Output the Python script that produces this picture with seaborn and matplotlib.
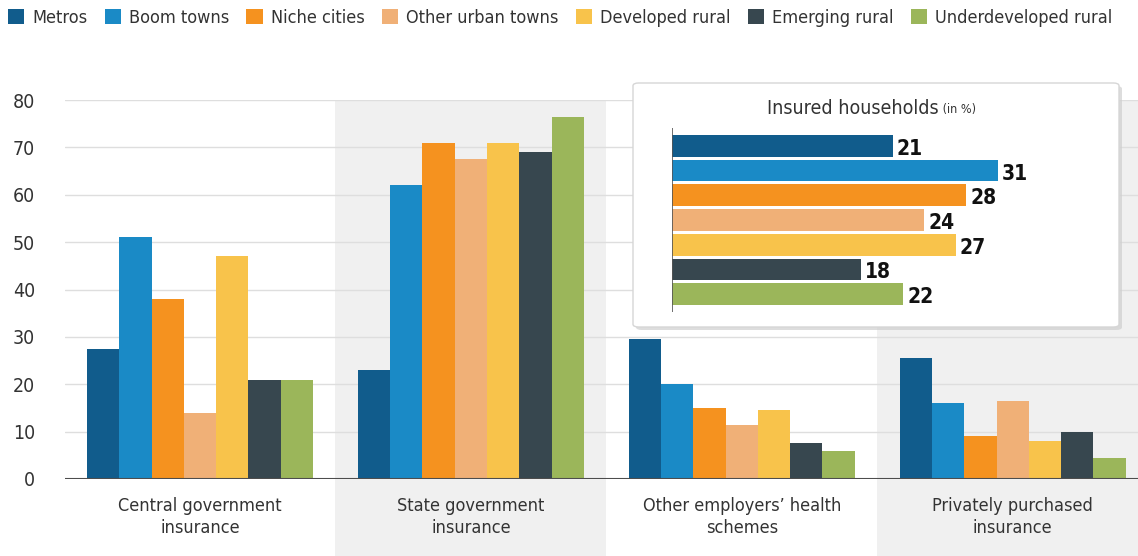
import matplotlib
matplotlib.use("Agg")
import matplotlib.pyplot as plt
import matplotlib.font_manager as fm
from matplotlib.patches import Patch, Rectangle, FancyBboxPatch
from matplotlib.transforms import blended_transform_factory
import pandas as pd
import seaborn as sns

# --- data -------------------------------------------------------------
groups = ["Metros", "Boom towns", "Niche cities", "Other urban towns",
          "Developed rural", "Emerging rural", "Underdeveloped rural"]
colors = ["#115c8c", "#1a8ac6", "#f5921f", "#f0b077", "#f8c34b",
          "#37474f", "#9bb65a"]
categories = ["Central government\ninsurance", "State government\ninsurance",
              "Other employers\u2019 health\nschemes", "Privately purchased\ninsurance"]

central = [27.5, 51, 38, 14, 47, 21, 21]
state = [23, 62, 71, 67.5, 71, 69, 76.5]
employers = [29.5, 20, 15, 11.5, 14.5, 7.5, 6]
private = [25.5, 16, 9, 16.5, 8, 10, 4.5]

insured = [21, 31, 28, 24, 27, 18, 22]
y_ticks = [0, 10, 20, 30, 40, 50, 60, 70, 80]

# --- fonts: prefer a narrow face -------------------------------------
sns.set_theme(style="white")
narrow = [f for f in fm.fontManager.ttflist
          if ("narrow" in f.fname.lower() or "condensed" in f.fname.lower())
          and f.style == "normal"]
if narrow:
    fam = narrow[0].name
    plt.rcParams["font.stretch"] = "condensed"
else:
    fam = "Liberation Sans"
plt.rcParams["font.family"] = [fam, "DejaVu Sans"]
text_color = "#333333"

rows = []
for cat, vals in zip(categories, [central, state, employers, private]):
    for g, v in zip(groups, vals):
        rows.append({"category": cat, "group": g, "value": v})
df = pd.DataFrame(rows)

W, H = 1138, 556
fig = plt.figure(figsize=(W / 100, H / 100), dpi=100)
fig.patch.set_facecolor("white")

# main axes
ax = fig.add_axes([64.5 / W, 77 / H, (1140 - 64.5) / W, (479 - 100) / H])
ax.set_facecolor("none")

sns.barplot(data=df, x="category", y="value", hue="group", hue_order=groups,
            order=categories, palette=colors, saturation=1, width=0.834,
            gap=0, legend=False, ax=ax, zorder=3, linewidth=0)

ax.set_xlim(-0.5, 3.47)
ax.set_ylim(0, 80)
ax.set_yticks(y_ticks)
ax.set_yticklabels([str(t) for t in y_ticks])
ax.set_xlabel("")
ax.set_ylabel("")
for s in ax.spines.values():
    s.set_visible(False)
ax.axhline(0, color="#4d4d4d", lw=1.5, zorder=4)
ax.yaxis.grid(True, color="#dedede", lw=1, zorder=1)
ax.set_axisbelow(True)
ax.tick_params(axis="y", length=0, pad=21, labelsize=14, labelcolor=text_color)
ax.tick_params(axis="x", length=0, pad=13, labelsize=13, labelcolor=text_color)
for lab in ax.get_xticklabels():
    lab.set_linespacing(1.25)

# alternating shaded columns behind the groups
trans = blended_transform_factory(ax.transData, fig.transFigure)
for i in (1, 3):
    ax.add_patch(Rectangle((i - 0.5, 0), 1, (H - 100) / H, transform=trans,
                           facecolor="#f0f0f0", edgecolor="none",
                           zorder=0, clip_on=False))

# legend along the top
handles = [Patch(facecolor=c, edgecolor="none", label=g) for g, c in zip(groups, colors)]
fig.legend(handles=handles, loc="center left", bbox_to_anchor=(0.007, 1 - 18 / H),
           ncol=7, frameon=False, fontsize=13, handlelength=0.9, handleheight=0.9,
           handletextpad=0.45, columnspacing=0.95, borderaxespad=0, borderpad=0,
           labelcolor=text_color)

# inset panel
bx0, by0, bx1, by1 = 633, 83, 1119, 327
shadow = FancyBboxPatch(((bx0 + 3) / W, 1 - (by1 + 3) / H),
                        (bx1 - bx0) / W, (by1 - by0) / H,
                        boxstyle="round,pad=0,rounding_size=0.005",
                        transform=fig.transFigure, facecolor="#cfcfcf",
                        edgecolor="none", alpha=0.7, zorder=5)
fig.add_artist(shadow)
panel = FancyBboxPatch((bx0 / W, 1 - by1 / H), (bx1 - bx0) / W, (by1 - by0) / H,
                       boxstyle="round,pad=0,rounding_size=0.005",
                       transform=fig.transFigure, facecolor="white",
                       edgecolor="#d6d6d6", lw=1, zorder=6)
fig.add_artist(panel)

iax = fig.add_axes([672 / W, 1 - 312 / H, (1100 - 672) / W, (312 - 128) / H], zorder=7)
iax.set_facecolor("none")
ins_df = pd.DataFrame({"group": groups, "value": insured})
sns.barplot(data=ins_df, x="value", y="group", hue="group", hue_order=groups,
            order=groups, palette=colors, saturation=1, width=0.88,
            legend=False, ax=iax, orient="h", linewidth=0)
iax.set_xlim(0, (1100 - 672) / 10.5)
iax.set_ylim(6.72, -0.72)
for s in iax.spines.values():
    s.set_visible(False)
iax.axvline(0, color="#555555", lw=1.2)
iax.set_xticks([])
iax.set_yticks([])
iax.set_xlabel("")
iax.set_ylabel("")
for i, v in enumerate(insured):
    iax.text(v + 0.4, i + 0.12, f"{v}", va="center", ha="left",
             fontsize=15, fontweight="bold", color="#111111")

title = fig.text(767 / W, 1 - 108 / H, "Insured households", ha="left",
                 va="center", fontsize=14, color=text_color, zorder=8)
plt.annotate(" (in %)", xy=(1, 0.1), xycoords=title, ha="left",
             va="bottom", fontsize=9, color=text_color,
             annotation_clip=False, zorder=8)

fig.savefig("out.png", dpi=100)
